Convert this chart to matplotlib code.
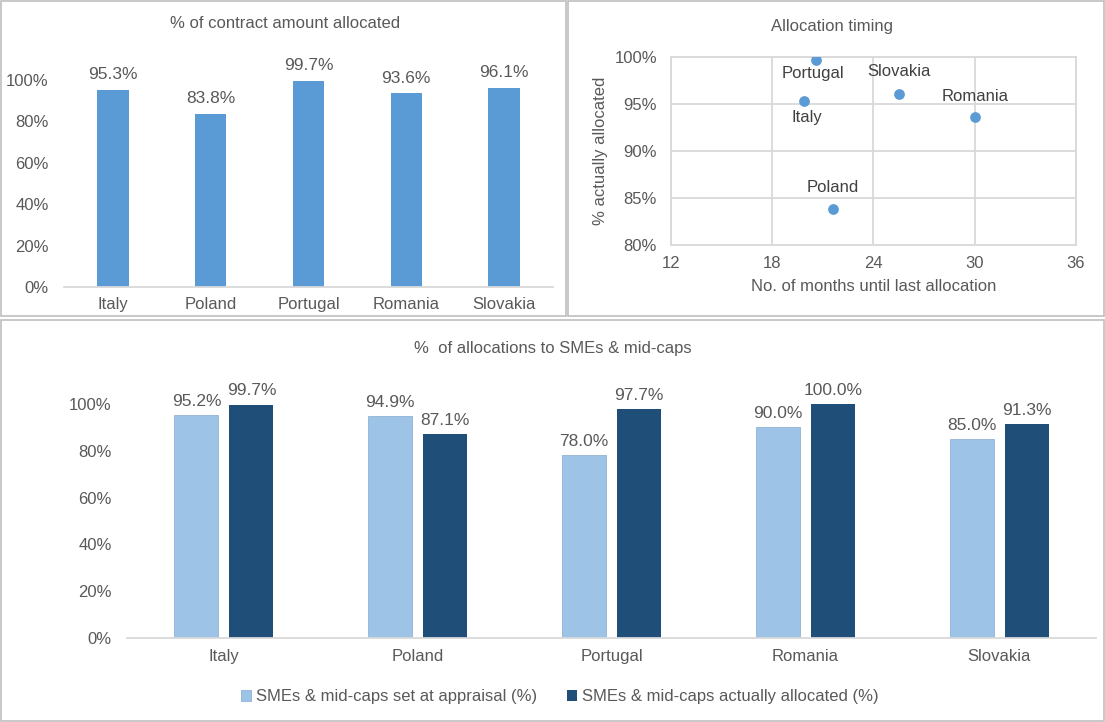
import matplotlib.pyplot as plt
from matplotlib.patches import Rectangle

plt.rcParams['font.family'] = ['Liberation Sans', 'DejaVu Sans']

W, H = 1105, 722
TXT = '#595959'
GRID = '#D9D9D9'
FS = 12
FS_LAB = 12.5

countries = ['Italy', 'Poland', 'Portugal', 'Romania', 'Slovakia']
contract_alloc = [95.3, 83.8, 99.7, 93.6, 96.1]
months_last = [19.9, 21.6, 20.6, 30.0, 25.5]
sme_appraisal = [95.2, 94.9, 78.0, 90.0, 85.0]
sme_actual = [99.7, 87.1, 97.7, 100.0, 91.3]


def px(l, t, r, b):
    return [l / W, 1 - b / H, (r - l) / W, (b - t) / H]


def pct(v, pos=None):
    return f'{v:.0f}%'


fig = plt.figure(figsize=(W / 100, H / 100), dpi=100)

# panel frames
for (l, t, r, b) in [(1, 1, 566, 316), (568, 1, 1104, 316), (1, 320, 1104, 721)]:
    fig.patches.append(Rectangle((l / W, 1 - b / H), (r - l) / W, (b - t) / H,
                                 transform=fig.transFigure, fill=False,
                                 edgecolor='#BFBFBF', linewidth=1.2))


def style_bar_axes(ax):
    for s in ['top', 'right', 'left']:
        ax.spines[s].set_visible(False)
    ax.spines['bottom'].set_color(GRID)
    ax.spines['bottom'].set_linewidth(1.3)
    ax.tick_params(length=0, colors=TXT, labelsize=FS)
    ax.set_ylim(0, 100)
    ax.set_yticks(range(0, 101, 20))
    ax.yaxis.set_major_formatter(pct)


# top-left: contract amount allocated
ax1 = fig.add_axes(px(64, 80, 553, 287))
x = range(len(countries))
ax1.bar(x, contract_alloc, width=0.32, color='#5B9BD5')
for i, v in enumerate(contract_alloc):
    ax1.annotate(f'{v:.1f}%', (i, v), xytext=(0, 5.5), textcoords='offset points',
                 ha='center', va='bottom', color=TXT, fontsize=FS_LAB, annotation_clip=False)
ax1.set_xlim(-0.5, 4.5)
ax1.set_xticks(list(x))
ax1.set_xticklabels(countries)
style_bar_axes(ax1)
ax1.tick_params(axis='y', pad=11)
ax1.tick_params(axis='x', pad=7)
fig.text(285 / W, 1 - 24 / H, '% of contract amount allocated', ha='center', va='center',
         color=TXT, fontsize=FS)

# top-right: allocation timing scatter
ax2 = fig.add_axes(px(671, 57, 1076, 245))
ax2.scatter(months_last, contract_alloc, s=45, color='#5B9BD5', zorder=3)
offsets = {'Italy': (2, -12), 'Poland': (0, 16), 'Portugal': (-2, -10),
           'Romania': (0, 15), 'Slovakia': (0, 16)}
for c, mx, v in zip(countries, months_last, contract_alloc):
    ax2.annotate(c, (mx, v), xytext=offsets[c], textcoords='offset points',
                 ha='center', va='center', color='#404040', fontsize=FS)
ax2.set_xlim(12, 36)
ax2.set_ylim(80, 100)
ax2.set_xticks(range(12, 37, 6))
ax2.set_yticks(range(80, 101, 5))
ax2.yaxis.set_major_formatter(pct)
ax2.grid(True, color=GRID, linewidth=1.3)
ax2.set_axisbelow(True)
for s in ax2.spines.values():
    s.set_color(GRID)
    s.set_linewidth(1.3)
ax2.tick_params(length=0, colors=TXT, labelsize=FS)
ax2.tick_params(axis='y', pad=10)
ax2.tick_params(axis='x', pad=8)
ax2.set_xlabel('No. of months until last allocation', color=TXT, fontsize=FS, labelpad=6)
ax2.set_ylabel('% actually allocated', color=TXT, fontsize=FS, labelpad=5)
fig.text(832 / W, 1 - 27 / H, 'Allocation timing', ha='center', va='center',
         color=TXT, fontsize=FS)

# bottom: allocations to SMEs & mid-caps
ax3 = fig.add_axes(px(127, 404, 1096, 638))
bw = 0.227
off = 0.142
xl = [i - off for i in x]
xr = [i + off for i in x]
ax3.bar(xl, sme_appraisal, width=bw, color='#9DC3E6', edgecolor='#8FB3D5', linewidth=0.6,
        label='SMEs & mid-caps set at appraisal (%)')
ax3.bar(xr, sme_actual, width=bw, color='#1F4E79',
        label='SMEs & mid-caps actually allocated (%)')
for xs, vals in [(xl, sme_appraisal), (xr, sme_actual)]:
    for xi, v in zip(xs, vals):
        ax3.annotate(f'{v:.1f}%', (xi, v), xytext=(0, 4.5), textcoords='offset points',
                     ha='center', va='bottom', color=TXT, fontsize=FS_LAB, annotation_clip=False)
ax3.set_xlim(-0.5, 4.5)
ax3.set_xticks(list(x))
ax3.set_xticklabels(countries)
style_bar_axes(ax3)
ax3.tick_params(axis='y', pad=11)
ax3.tick_params(axis='x', pad=8)
fig.text(553 / W, 1 - 349 / H, '%  of allocations to SMEs & mid-caps', ha='center', va='center',
         color=TXT, fontsize=FS)
leg = fig.legend(loc='center', bbox_to_anchor=(560 / W, 1 - 697 / H), ncol=2, frameon=False,
                 fontsize=FS, handlelength=0.6, handleheight=0.6, handletextpad=0.3,
                 columnspacing=1.8)
for t in leg.get_texts():
    t.set_color(TXT)

fig.savefig('out.png', dpi=100)
